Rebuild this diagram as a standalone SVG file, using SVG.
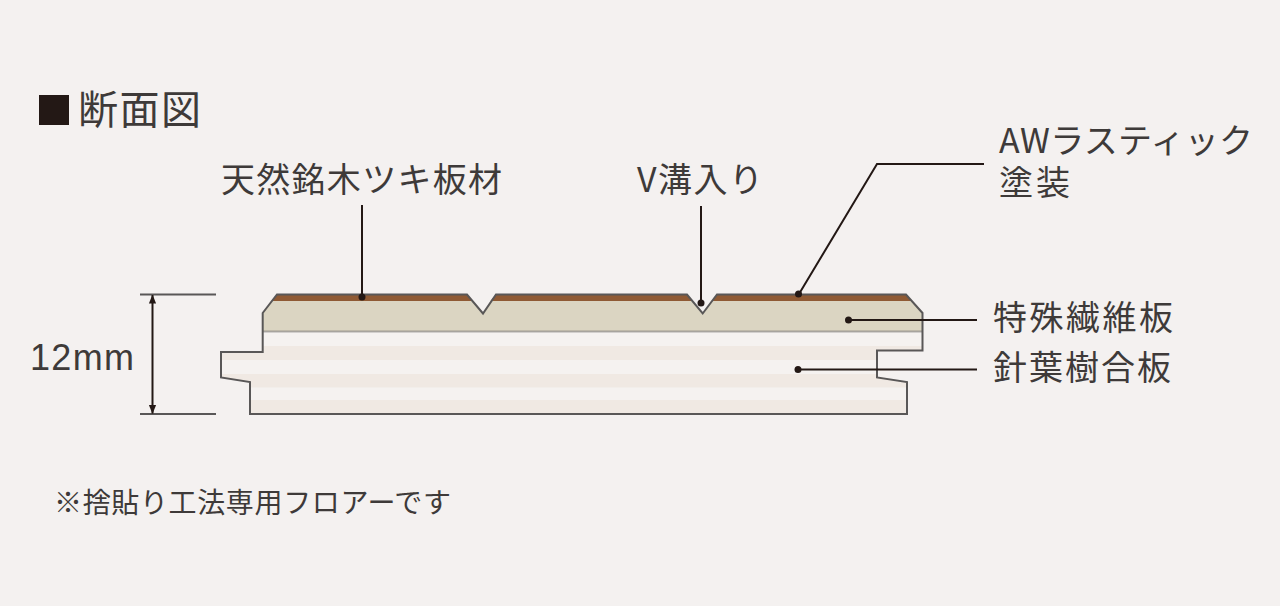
<svg xmlns="http://www.w3.org/2000/svg" width="1280" height="606" viewBox="0 0 1280 606">
<style>
text{font-family:"Noto Sans CJK JP","Liberation Sans",sans-serif;fill:#3e3a39;font-weight:400}
.l{font-size:34px}
.leader{fill:none;stroke:#231815;stroke-width:2}
.dot{fill:#231815}
.tick{fill:none;stroke:#595757;stroke-width:2}
.outline{fill:none;stroke:#595757;stroke-width:2;stroke-linejoin:miter}
</style>
<defs>
<marker id="ah" viewBox="0 0 10 10" refX="9.5" refY="5" markerWidth="9" markerHeight="9" markerUnits="userSpaceOnUse" orient="auto-start-reverse"><path d="M0 1 L10 5 L0 9 Z" fill="#231815"/></marker>
<clipPath id="bodyClip"><path d="M262.7 331.5H922.5V350.5H877V377.5L907 382V414H250V382L221 377.5V352H262.7Z"/></clipPath>
</defs>
<rect width="1280" height="606" fill="#f4f1f0"/>
<g id="title"><rect x="39" y="95" width="30" height="30" fill="#231815"/><text x="78" y="124" font-size="40" textLength="123" lengthAdjust="spacing">断面図</text></g>
<g id="board">
<path d="M262.7 331.5H922.5V350.5H877V377.5L907 382V414H250V382L221 377.5V352H262.7Z" fill="#f5f2f0"/>
<g clip-path="url(#bodyClip)" fill="#f0e9e3"><rect x="215" y="346" width="715" height="14"/><rect x="215" y="374" width="715" height="13.500"/><rect x="215" y="400" width="715" height="14"/></g>
<path d="M277 294.500H467L483 313.500L496 294.500H687L702.700 313.500L717 294.500H906L922.500 313V331.500H262.700V313Z" fill="#dbd5c2"/>
<path d="M277 294.500H467L473 301H490.500L496 294.500H687L692.700 301H712.500L717 294.500H906L912 301H271.500Z" fill="#8f5a34"/>
<path d="M262.700 331.500H922.500" class="outline" stroke-opacity=".45"/>
<path class="outline" d="M277 294.500H467L483 313.500L496 294.500H687L702.700 313.500L717 294.500H906L922.500 313V350.500H877V377.500L907 382V414H250V382L221 377.500V352H262.700V313Z"/>
</g>
<g id="connectors">
<path class="leader" d="M362 205V297"/><circle class="dot" cx="362" cy="297" r="3.500"/>
<path class="leader" d="M701 206V302"/><circle class="dot" cx="701" cy="303" r="3.500"/>
<path class="leader" d="M799 294L877 164H984"/><circle class="dot" cx="798.500" cy="294" r="3.500"/>
<path class="leader" d="M848 320H977"/><circle class="dot" cx="848.500" cy="320" r="3.500"/>
<path class="leader" d="M798 369.500H977"/><circle class="dot" cx="798" cy="369.500" r="3.500"/>
<path class="tick" d="M140 294.500H216M140 414H216"/>
<path d="M152.500 295V413.500" fill="none" stroke="#231815" stroke-width="2" marker-start="url(#ah)" marker-end="url(#ah)"/>
</g>
<g id="label-veneer"><text class="l" x="221" y="192" textLength="281" lengthAdjust="spacing">天然銘木ツキ板材</text></g>
<g id="label-v"><text class="l" x="637" y="192" textLength="126" lengthAdjust="spacing">V溝入り</text></g>
<g id="label-coat"><text class="l" x="999" y="153" textLength="254" lengthAdjust="spacing">AWラスティック</text><text class="l" x="999" y="195" textLength="71" lengthAdjust="spacing">塗装</text></g>
<g id="label-fiber"><text class="l" x="993" y="330" textLength="180" lengthAdjust="spacing">特殊繊維板</text></g>
<g id="label-ply"><text class="l" x="993" y="380" textLength="178" lengthAdjust="spacing">針葉樹合板</text></g>
<g id="label-12mm"><text x="30" y="370" font-size="36" style="font-family:'Liberation Sans',sans-serif" textLength="104" lengthAdjust="spacing">12mm</text></g>
<g id="note"><text x="54" y="513" font-size="28" textLength="397" lengthAdjust="spacing">※捨貼り工法専用フロアーです</text></g>
</svg>
